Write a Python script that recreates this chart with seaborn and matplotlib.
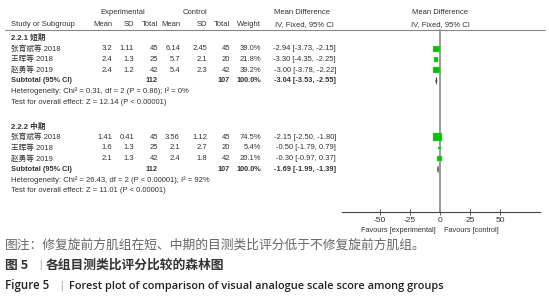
import numpy as np
import pandas as pd
import matplotlib
matplotlib.use('Agg')
import matplotlib.pyplot as plt
import seaborn as sns

sns.set_style('white')
plt.rcParams['font.family'] = ['Liberation Sans', 'Noto Sans CJK SC', 'DejaVu Sans']

# ---------------- data ----------------
groups = ['2.2.1 短期', '2.2.2 中期']
studies = ['张育斌等 2018', '王晖等 2018', '赵勇等 2019']

exp_mean = [['3.2', '2.4', '2.4'], ['1.41', '1.6', '2.1']]
exp_sd = [['1.11', '1.3', '1.2'], ['0.41', '1.3', '1.3']]
exp_n = [[45, 25, 42], [45, 25, 42]]
ctl_mean = [['6.14', '5.7', '5.4'], ['3.56', '2.1', '2.4']]
ctl_sd = [['2.45', '2.1', '2.3'], ['1.12', '2.7', '1.8']]
ctl_n = [[45, 20, 42], [45, 20, 42]]
weight = [[39.0, 21.8, 39.2], [74.5, 5.4, 20.1]]
md = [[-2.94, -3.30, -3.00], [-2.15, -0.50, -0.30]]
md_lo = [[-3.73, -4.35, -3.78], [-2.50, -1.79, -0.97]]
md_hi = [[-2.15, -2.25, -2.22], [-1.80, 0.79, 0.37]]

sub_md = [-3.04, -1.69]
sub_lo = [-3.53, -1.99]
sub_hi = [-2.55, -1.39]
het_text = ['Heterogeneity: Chi² = 0.31, df = 2 (P = 0.86); I² = 0%',
            'Heterogeneity: Chi² = 26.43, df = 2 (P < 0.00001); I² = 92%']
test_text = ['Test for overall effect: Z = 12.14 (P < 0.00001)',
             'Test for overall effect: Z = 11.01 (P < 0.00001)']

xticks = [-50, -25, 0, 25, 50]

# ---------------- layout ----------------
W, H = 549, 300
fig = plt.figure(figsize=(W / 100, H / 100), dpi=100)
tab = fig.add_axes([0, 0, 1, 1])
tab.set_xlim(0, W)
tab.set_ylim(H, 0)
tab.axis('off')

fs = 5.5
tc = '#333333'
col_x = [112, 134, 158, 180, 207, 230, 261, 336]  # right edges of numeric columns
group_y = [38, 126.5]
step = 10.7


def txt(x, y, s, ha='left', bold=False, size=fs, color=tc):
    tab.text(x, y, s, ha=ha, va='center', fontsize=size, color=color,
             fontweight='bold' if bold else 'normal')


# headers
txt(123, 13, 'Experimental', ha='center')
txt(195, 13, 'Control', ha='center')
txt(302, 13, 'Mean Difference', ha='center')
txt(440, 13, 'Mean Difference', ha='center')
txt(11, 25, 'Study or Subgroup')
for x, s in zip(col_x[:7], ['Mean', 'SD', 'Total', 'Mean', 'SD', 'Total', 'Weight']):
    txt(x, 25, s, ha='right')
txt(304, 25, 'IV, Fixed, 95% CI', ha='center')
txt(440, 25, 'IV, Fixed, 95% CI', ha='center')
tab.plot([5, 545], [30, 30], color='#888888', lw=0.8)

rows = []
for g in range(2):
    y0 = group_y[g]
    txt(11, y0, groups[g], bold=True)
    for i in range(3):
        y = y0 + step * (i + 1)
        vals = [exp_mean[g][i], exp_sd[g][i], exp_n[g][i], ctl_mean[g][i],
                ctl_sd[g][i], ctl_n[g][i], f'{weight[g][i]:.1f}%',
                f'{md[g][i]:.2f} [{md_lo[g][i]:.2f}, {md_hi[g][i]:.2f}]']
        txt(11, y, studies[i])
        for x, v in zip(col_x, vals):
            txt(x, y, str(v), ha='right')
        rows.append(dict(md=md[g][i], lo=md_lo[g][i], hi=md_hi[g][i],
                         y=y, weight=weight[g][i]))
    ys = y0 + step * 4
    bs = 5.3
    txt(11, ys, 'Subtotal (95% CI)', bold=True, size=bs)
    txt(col_x[2], ys, str(sum(exp_n[g])), ha='right', bold=True, size=bs)
    txt(col_x[5], ys, str(sum(ctl_n[g])), ha='right', bold=True, size=bs)
    txt(col_x[6], ys, f'{sum(weight[g]):.1f}%', ha='right', bold=True, size=bs)
    txt(col_x[7], ys, f'{sub_md[g]:.2f} [{sub_lo[g]:.2f}, {sub_hi[g]:.2f}]',
        ha='right', bold=True, size=bs)
    txt(11, y0 + step * 5, het_text[g])
    txt(11, y0 + step * 6, test_text[g])

df = pd.DataFrame(rows)

# ---------------- forest panel ----------------
ax_l, ax_r = 342, 540
fx = fig.add_axes([ax_l / W, 0, (ax_r - ax_l) / W, 1])
fx.patch.set_alpha(0)
fx.set_ylim(H, 0)
fx.set_xlim(-81.7, 83.3)

fx.plot([0, 0], [30, 212], color='#999999', lw=1.4, zorder=1)
fx.hlines(df['y'], df['lo'], df['hi'], color='#222222', lw=0.5, zorder=2)
sns.scatterplot(data=df, x='md', y='y', size='weight', sizes=(0, 50),
                size_norm=(0, 100), marker='s', color='#00c400',
                edgecolor='#66dd66', linewidth=0.3, legend=False, ax=fx, zorder=3)
for g in range(2):
    ys = group_y[g] + step * 4
    fx.fill([sub_lo[g], sub_md[g], sub_hi[g], sub_md[g]],
            [ys, ys - 3.5, ys, ys + 3.5], facecolor='#333333',
            edgecolor='#333333', lw=0.4, zorder=3)

for s in ['top', 'right', 'left']:
    fx.spines[s].set_visible(False)
fx.spines['bottom'].set_position(('data', 212))
fx.spines['bottom'].set_color('#444444')
fx.spines['bottom'].set_linewidth(0.8)
fx.set_xticks(xticks)
fx.set_xticklabels([str(t) for t in xticks])
fx.tick_params(axis='x', direction='inout', length=4, width=0.6, color='#444444',
               labelsize=6, labelcolor=tc, pad=1.5, bottom=True)
fx.set_yticks([])
fx.set_xlabel('')
fx.set_ylabel('')

txt(436, 230, 'Favours [experimental]', ha='right', size=5.3)
txt(444, 230, 'Favours [control]', size=5.3)

# ---------------- captions ----------------
cap_font = ['Noto Sans CJK SC', 'DejaVu Sans']
tab.text(5, 245, '图注：修复旋前方肌组在短、中期的目测类比评分低于不修复旋前方肌组。',
         fontsize=9.2, color='#666666', va='center', family=cap_font)
tab.text(5, 265.5, '图 5', fontsize=9.2, color='#333333', va='center',
         family=cap_font, fontweight='bold')
tab.text(40, 265.5, '|', fontsize=7, color='#999999', va='center', ha='center')
tab.text(46, 265.5, '各组目测类比评分比较的森林图', fontsize=9.2, color='#333333',
         va='center', family=cap_font, fontweight='bold')
tab.text(5, 286, 'Figure 5', fontsize=8.3, color='#222222', va='center',
         family=['Open Sans'], fontweight='semibold')
tab.text(61, 286, '|', fontsize=7, color='#999999', va='center', ha='center')
tab.text(69, 286, 'Forest plot of comparison of visual analogue scale score among groups',
         fontsize=7.95, color='#222222', va='center', family=['Open Sans'],
         fontweight='semibold')

fig.savefig('out.png', dpi=100)
